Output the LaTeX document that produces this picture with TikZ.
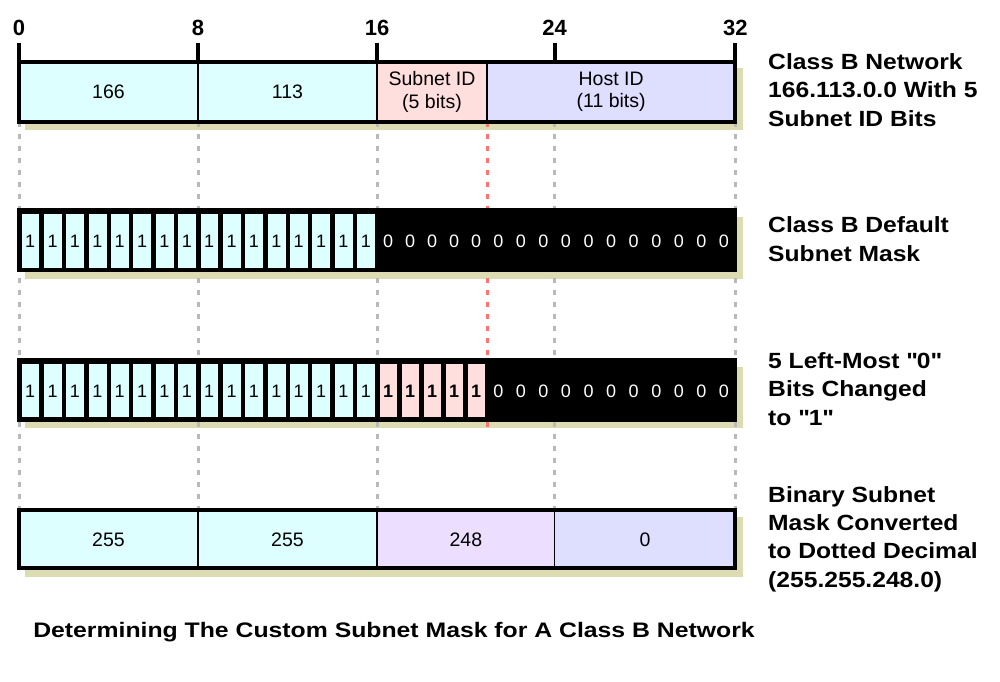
\documentclass[tikz,border=0pt]{standalone}
\usepackage{fontspec}
\setmainfont{Liberation Sans}
\newfontfamily\labfont{Liberation Sans}[FakeStretch=1.12]
\newfontfamily\capfont{Liberation Sans}[FakeStretch=1.18]
\definecolor{cyanf}{RGB}{221,255,255}
\definecolor{pinkf}{RGB}{255,222,222}
\definecolor{lavf}{RGB}{222,222,255}
\definecolor{purf}{RGB}{236,222,255}
\definecolor{shad}{RGB}{221,219,178}
\definecolor{guide}{RGB}{185,185,185}
\definecolor{redguide}{RGB}{255,115,115}
\pgfmathdeclarefunction{bx}{1}{\pgfmathparse{(#1<=16)*(19+22.375*#1)+(#1>16)*(#1<=21)*(377+22*(#1-16))+(#1>21)*(487+22.57*(#1-21))}}
\begin{document}
\begin{tikzpicture}[x=1pt,y=-1pt,
  frame/.style={draw=black,line width=4pt},
  divider/.style={draw=black,line width=1.3pt},
  shadowbox/.style={fill=shad},
  guideline/.style={draw=guide,line width=3pt,dash pattern=on 5pt off 7pt},
  redline/.style={draw=redguide,line width=3pt,dash pattern=on 5pt off 7pt},
  tick/.style={draw=black,line width=4pt},
  ticklabel/.style={font=\bfseries\fontsize{22}{24}\selectfont,inner sep=0pt},
  celltxt/.style={font=\fontsize{19.5}{22.5}\selectfont,align=center,inner sep=0pt},
  bittxt/.style={font=\fontsize{18}{20}\selectfont,inner sep=0pt},
  bitcell/.style={draw=black,line width=0.9pt},
  sidelabel/.style={font=\labfont\bfseries\fontsize{22}{28.4}\selectfont,align=left,anchor=west,inner sep=0pt},
  caption/.style={font=\capfont\bfseries\fontsize{21}{24}\selectfont,inner sep=0pt}]
\useasboundingbox (0,0) rectangle (1000,681);
% bar extents (line centres)
\def\tA{61.5}\def\bA{121.5}
\def\tB{210}\def\bB{270}
\def\tC{360}\def\bC{419.5}
\def\tD{510}\def\bD{568}
% shadows
\foreach \t/\b in {\tA/\bA,\tB/\bB,\tC/\bC,\tD/\bD}
  \fill[shadowbox] ({bx(0)+6},\t+6.5) rectangle ({bx(32)+8},\b+8.5);
% guide coordinates
\foreach \i in {0,8,16,21,24,32}{
  \coordinate (gt\i) at ({bx(\i)},\bA);
}
\foreach \i in {0,8,16,24,32}{
  \coordinate (gb\i) at ({bx(\i)},\tD);
  \draw[guideline] (gt\i) -- (gb\i);
}
\coordinate (gr21) at ({bx(21)},431);
\draw[redline] (gt21) -- (gr21);
% ---------- bar 1
\fill[cyanf] ({bx(0)},\tA) rectangle ({bx(16)},\bA);
\fill[pinkf] ({bx(16)},\tA) rectangle ({bx(21)},\bA);
\fill[lavf] ({bx(21)},\tA) rectangle ({bx(32)},\bA);
\foreach \i in {8,16,21} \draw[divider] ({bx(\i)},\tA) -- ({bx(\i)},\bA);
\draw[frame] ({bx(0)},\tA) rectangle ({bx(32)},\bA);
\node[celltxt] (n166) at ({(bx(0)+bx(8))/2},91.5) {166};
\node[celltxt] (n113) at ({(bx(8)+bx(16))/2},91.5) {113};
\node[celltxt] (nsub) at ({(bx(16)+bx(21))/2},92) {Subnet ID\\(5 bits)};
\node[celltxt] (nhost) at ({(bx(21)+bx(32))/2},92) {Host ID\\(11 bits)};
% ticks
\foreach \i in {0,8,16,24,32}{
  \coordinate (tk\i) at ({bx(\i)},43);
  \coordinate (tb\i) at ({bx(\i)},\tA);
  \draw[tick] (tk\i) -- (tb\i);
  \node[ticklabel] (lab\i) at ({bx(\i)},28) {\i};
}
% ---------- bar 2
\fill[black] ({bx(0)},\tB) rectangle ({bx(32)},\bB);
\draw[frame] ({bx(0)},\tB) rectangle ({bx(32)},\bB);
\foreach \i in {0,...,15}{
  \draw[bitcell,fill=cyanf] ({bx(\i)+2},\tB+3.5) rectangle ({bx(\i+1)-1.5},\bB-1.8);
  \node[bittxt] (b2c\i) at ({(bx(\i)+bx(\i+1))/2},241.5) {1};
}
\foreach \i in {16,...,31}
  \node[bittxt,text=white] (b2z\i) at ({(bx(\i)+bx(\i+1))/2},241.5) {0};
% ---------- bar 3
\fill[black] ({bx(0)},\tC) rectangle ({bx(32)},\bC);
\draw[frame] ({bx(0)},\tC) rectangle ({bx(32)},\bC);
\foreach \i in {0,...,15}{
  \draw[bitcell,fill=cyanf] ({bx(\i)+2},\tC+3.5) rectangle ({bx(\i+1)-1.5},\bC-1.8);
  \node[bittxt] (b3c\i) at ({(bx(\i)+bx(\i+1))/2},391) {1};
}
\foreach \i in {16,...,20}{
  \draw[bitcell,fill=pinkf] ({bx(\i)+2},\tC+3.5) rectangle ({bx(\i+1)-1.5},\bC-1.8);
  \node[bittxt,font=\bfseries\fontsize{18}{20}\selectfont] (b3p\i) at ({(bx(\i)+bx(\i+1))/2},391) {1};
}
\foreach \i in {21,...,31}
  \node[bittxt,text=white] (b3z\i) at ({(bx(\i)+bx(\i+1))/2},391) {0};
% ---------- bar 4
\fill[cyanf] ({bx(0)},\tD) rectangle ({bx(16)},\bD);
\fill[purf] ({bx(16)},\tD) rectangle ({bx(24)},\bD);
\fill[lavf] ({bx(24)},\tD) rectangle ({bx(32)},\bD);
\foreach \i in {8,16,24} \draw[divider] ({bx(\i)},\tD) -- ({bx(\i)},\bD);
\draw[frame] ({bx(0)},\tD) rectangle ({bx(32)},\bD);
\node[celltxt] (d1) at ({(bx(0)+bx(8))/2},540) {255};
\node[celltxt] (d2) at ({(bx(8)+bx(16))/2},540) {255};
\node[celltxt] (d3) at ({(bx(16)+bx(24))/2},540) {248};
\node[celltxt] (d4) at ({(bx(24)+bx(32))/2},540) {0};
% ---------- side labels
\node[sidelabel] (s1) at (768,90) {Class B Network\\166.113.0.0 With 5\\Subnet ID Bits};
\node[sidelabel] (s2) at (768,239) {Class B Default\\Subnet Mask};
\node[sidelabel] (s3) at (768,389) {5 Left-Most \textquotedbl0\textquotedbl\\Bits Changed\\to \textquotedbl1\textquotedbl};
\node[sidelabel] (s4) at (768,539) {Binary Subnet\\Mask Converted\\to Dotted Decimal\\(255.255.248.0)};
% caption
\node[caption] (cap) at (394,632) {Determining The Custom Subnet Mask for A Class B Network};
\end{tikzpicture}
\end{document}
